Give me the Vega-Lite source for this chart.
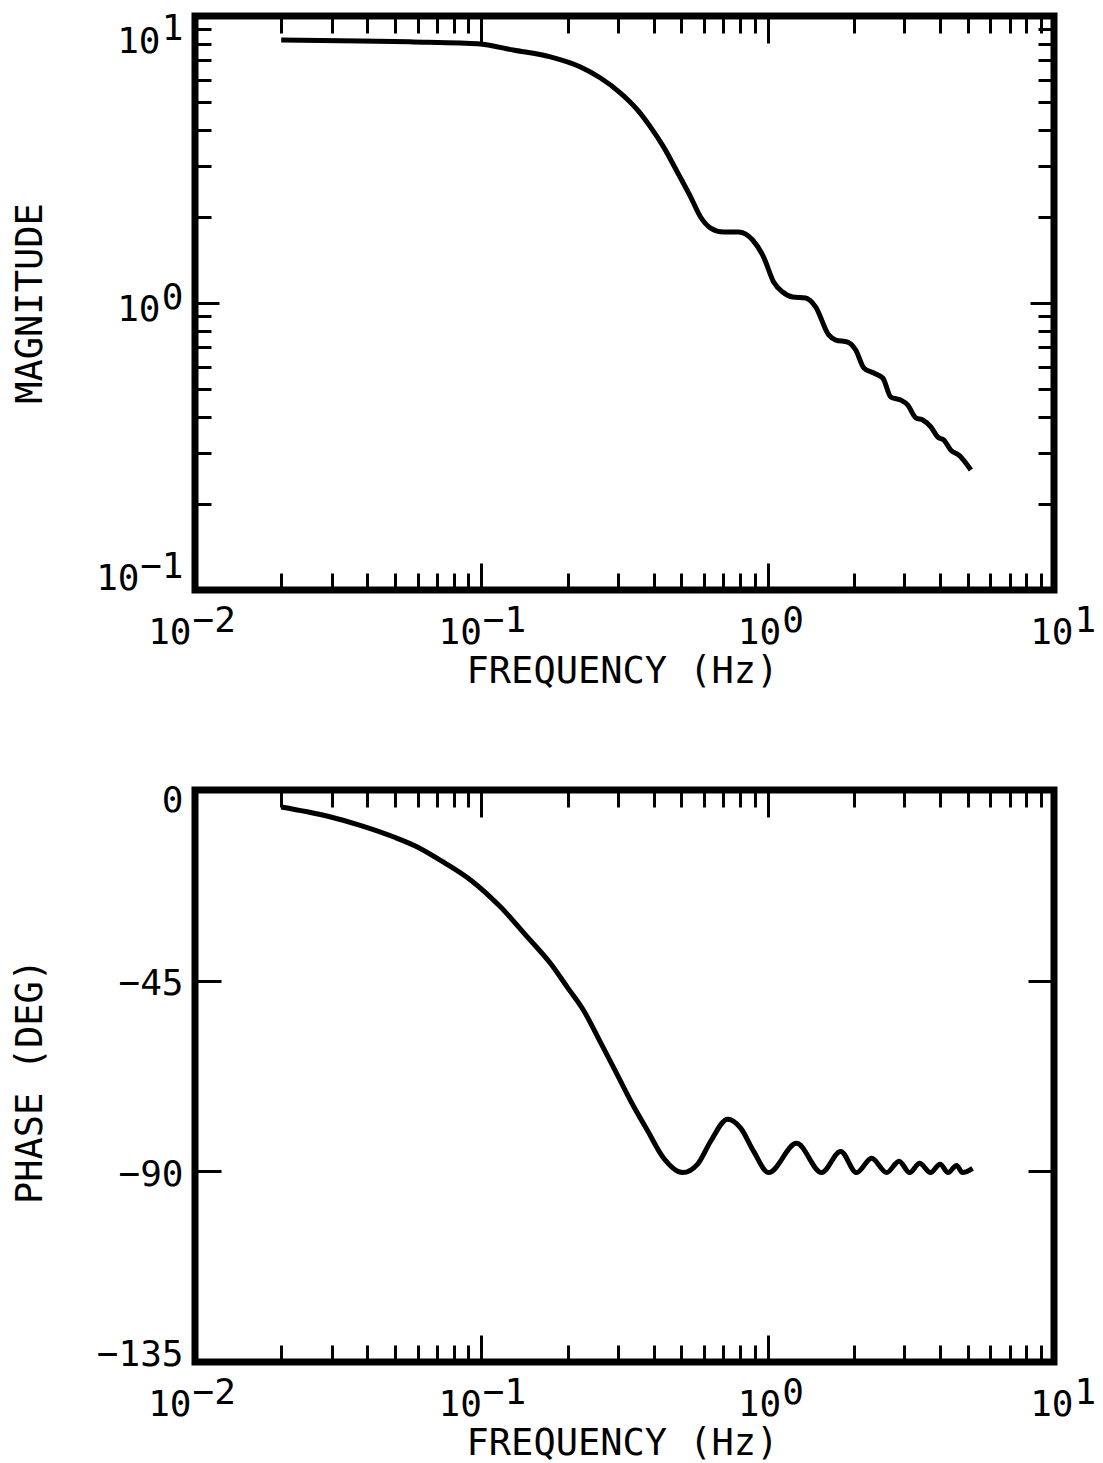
{
  "$schema": "https://vega.github.io/schema/vega-lite/v6.json",
  "background": "white",
  "padding": {"left": 7, "top": 6, "right": 0, "bottom": 0},
  "bounds": "flush",
  "spacing": 200,
  "config": {
    "font": "DejaVu Sans Mono",
    "view": {"stroke": "black", "strokeWidth": 7},
    "axis": {
      "domain": false, "grid": false, "tickColor": "black", "tickWidth": 3,
      "labelFont": "DejaVu Sans Mono", "labelFontSize": 36, "labelColor": "black",
      "titleFont": "DejaVu Sans Mono", "titleFontSize": 37, "titleFontWeight": "normal", "titleColor": "black",
      "labelOverlap": false, "labelFlush": false, "labelBound": false
    }
  },
  "datasets": {
    "mag": [
      {"freq": 0.02, "mag": 8.25}, {"freq": 0.0378, "mag": 8.19}, {"freq": 0.0579, "mag": 8.12},
      {"freq": 0.0844, "mag": 8.05}, {"freq": 0.0992, "mag": 7.99}, {"freq": 0.1294, "mag": 7.61},
      {"freq": 0.1742, "mag": 7.2}, {"freq": 0.222, "mag": 6.64}, {"freq": 0.2607, "mag": 6.08},
      {"freq": 0.3062, "mag": 5.39}, {"freq": 0.351, "mag": 4.71}, {"freq": 0.39, "mag": 4.1},
      {"freq": 0.4328, "mag": 3.5}, {"freq": 0.4845, "mag": 2.85}, {"freq": 0.5385, "mag": 2.34},
      {"freq": 0.583, "mag": 1.994}, {"freq": 0.632, "mag": 1.825}, {"freq": 0.7016, "mag": 1.768},
      {"freq": 0.7916, "mag": 1.768}, {"freq": 0.886, "mag": 1.658}, {"freq": 0.968, "mag": 1.446},
      {"freq": 1.049, "mag": 1.184}, {"freq": 1.128, "mag": 1.092}, {"freq": 1.223, "mag": 1.049},
      {"freq": 1.358, "mag": 1.041}, {"freq": 1.472, "mag": 0.968}, {"freq": 1.634, "mag": 0.774},
      {"freq": 1.729, "mag": 0.743}, {"freq": 1.903, "mag": 0.731}, {"freq": 2.03, "mag": 0.686},
      {"freq": 2.167, "mag": 0.594}, {"freq": 2.347, "mag": 0.57}, {"freq": 2.524, "mag": 0.548},
      {"freq": 2.692, "mag": 0.47}, {"freq": 2.917, "mag": 0.459}, {"freq": 3.086, "mag": 0.441},
      {"freq": 3.292, "mag": 0.398}, {"freq": 3.482, "mag": 0.391}, {"freq": 3.714, "mag": 0.37},
      {"freq": 3.929, "mag": 0.341}, {"freq": 4.125, "mag": 0.333}, {"freq": 4.363, "mag": 0.307},
      {"freq": 4.654, "mag": 0.295}, {"freq": 5.126, "mag": 0.262}
    ],
    "phase": [
      {"freq": 0.02, "phase": -4.0}, {"freq": 0.0291, "phase": -6.2}, {"freq": 0.038, "phase": -8.4},
      {"freq": 0.0495, "phase": -11.1}, {"freq": 0.06, "phase": -13.5}, {"freq": 0.074, "phase": -17.1},
      {"freq": 0.0919, "phase": -21.3}, {"freq": 0.117, "phase": -27.7}, {"freq": 0.1453, "phase": -34.8},
      {"freq": 0.1748, "phase": -41.0}, {"freq": 0.2004, "phase": -46.7}, {"freq": 0.2279, "phase": -52.1},
      {"freq": 0.2613, "phase": -59.7}, {"freq": 0.2901, "phase": -65.6}, {"freq": 0.3324, "phase": -73.4},
      {"freq": 0.3813, "phase": -80.5}, {"freq": 0.4335, "phase": -86.9}, {"freq": 0.505, "phase": -90.3},
      {"freq": 0.5695, "phase": -88.3}, {"freq": 0.6324, "phase": -82.9}, {"freq": 0.7248, "phase": -77.7},
      {"freq": 0.805, "phase": -79.8}, {"freq": 0.8935, "phase": -85.3}, {"freq": 1.008, "phase": -90.3},
      {"freq": 1.262, "phase": -83.4}, {"freq": 1.543, "phase": -90.3}, {"freq": 1.798, "phase": -85.3},
      {"freq": 2.045, "phase": -90.3}, {"freq": 2.307, "phase": -86.9}, {"freq": 2.603, "phase": -90.3},
      {"freq": 2.877, "phase": -87.6}, {"freq": 3.131, "phase": -90.3}, {"freq": 3.393, "phase": -88.1},
      {"freq": 3.707, "phase": -90.3}, {"freq": 4.001, "phase": -88.3}, {"freq": 4.266, "phase": -90.3},
      {"freq": 4.567, "phase": -88.6}, {"freq": 4.793, "phase": -90.3}, {"freq": 5.195, "phase": -89.3}
    ]
  },
  "vconcat": [
    {
      "width": 859, "height": 574,
      "data": {"name": "mag"},
      "resolve": {"axis": {"x": "independent", "y": "independent"}},
      "layer": [
        {
          "mark": {"type": "line", "color": "black", "strokeWidth": 5, "interpolate": "monotone"},
          "encoding": {
            "x": {"field": "freq", "type": "quantitative",
              "scale": {"type": "log", "domain": [0.01, 10], "nice": false},
              "axis": {"orient": "bottom", "values": [0.01, 0.1, 1, 10], "tickSize": -27, "labelPadding": 52,
                "labelAlign": "right", "labelBaseline": "top", "labelExpr": "'10'",
                "labelOffset": {"condition": [{"test": "datum.value > 5", "value": 19}, {"test": "datum.value > 0.5", "value": 13}, {"test": "datum.value < 0.05", "value": -4}], "value": 0},
                "title": "FREQUENCY (Hz)", "titleX": 427, "titleY": 92, "titleBaseline": "alphabetic"}},
            "y": {"field": "mag", "type": "quantitative",
              "scale": {"type": "log", "domain": [0.1, 10], "nice": false},
              "axis": {"orient": "left", "values": [0.1, 1, 10], "tickSize": -24,
                "labelPadding": {"condition": {"test": "datum.value < 0.5", "value": 80}, "value": 59},
                "labelAlign": "right", "labelBaseline": "middle", "labelExpr": "'10'",
                "labelOffset": {"condition": [{"test": "datum.value > 5", "value": 25}, {"test": "datum.value < 0.5", "value": -12}], "value": 6},
                "title": "MAGNITUDE", "titleX": -154, "titleY": 287, "titleBaseline": "alphabetic"}}
          }
        },
        {
          "mark": {"type": "line", "opacity": 0},
          "encoding": {
            "x": {"field": "freq", "type": "quantitative", "scale": {"type": "log", "domain": [0.01, 10], "nice": false},
              "axis": {"orient": "bottom", "values": [0.01, 0.1, 1, 10], "tickSize": -27, "tickOpacity": 0, "labelPadding": 40,
                "labelAlign": "left", "labelBaseline": "top",
                "labelExpr": "datum.value < 0.05 ? '\u22122' : datum.value < 0.5 ? '\u22121' : datum.value < 5 ? '0' : '1'",
                "labelOffset": {"condition": [{"test": "datum.value > 5", "value": 20}, {"test": "datum.value > 0.5", "value": 14}, {"test": "datum.value < 0.05", "value": -3}], "value": 1},
                "title": null}},
            "y": {"field": "mag", "type": "quantitative", "scale": {"type": "log", "domain": [0.1, 10], "nice": false},
              "axis": {"orient": "left", "values": [0.1, 1, 10], "tickSize": -24, "tickOpacity": 0, "labelPadding": 36,
                "labelAlign": "right", "labelBaseline": "middle",
                "labelExpr": "datum.value < 0.5 ? '\u22121' : datum.value < 5 ? '0' : '1'",
                "labelOffset": {"condition": [{"test": "datum.value > 5", "value": 12}, {"test": "datum.value < 0.5", "value": -24}], "value": -6},
                "title": null}}
          }
        },
        {
          "mark": {"type": "line", "opacity": 0},
          "encoding": {
            "x": {"field": "freq", "type": "quantitative", "scale": {"type": "log", "domain": [0.01, 10], "nice": false},
              "axis": {"orient": "bottom", "values": [0.02,0.03,0.04,0.05,0.06,0.07,0.08,0.09,0.2,0.3,0.4,0.5,0.6,0.7,0.8,0.9,2,3,4,5,6,7,8,9], "tickSize": -17, "labels": false, "title": null}},
            "y": {"field": "mag", "type": "quantitative", "scale": {"type": "log", "domain": [0.1, 10], "nice": false},
              "axis": {"orient": "left", "values": [0.2,0.3,0.4,0.5,0.6,0.7,0.8,0.9,2,3,4,5,6,7,8,9], "tickSize": -16, "labels": false, "title": null}}
          }
        },
        {
          "mark": {"type": "line", "opacity": 0},
          "encoding": {
            "x": {"field": "freq", "type": "quantitative", "scale": {"type": "log", "domain": [0.01, 10], "nice": false},
              "axis": {"orient": "top", "values": [0.1, 1], "tickSize": -27, "labels": false, "title": null}},
            "y": {"field": "mag", "type": "quantitative", "scale": {"type": "log", "domain": [0.1, 10], "nice": false},
              "axis": {"orient": "right", "values": [1], "tickSize": -24, "labels": false, "title": null}}
          }
        },
        {
          "mark": {"type": "line", "opacity": 0},
          "encoding": {
            "x": {"field": "freq", "type": "quantitative", "scale": {"type": "log", "domain": [0.01, 10], "nice": false},
              "axis": {"orient": "top", "values": [0.02,0.03,0.04,0.05,0.06,0.07,0.08,0.09,0.2,0.3,0.4,0.5,0.6,0.7,0.8,0.9,2,3,4,5,6,7,8,9], "tickSize": -17, "labels": false, "title": null}},
            "y": {"field": "mag", "type": "quantitative", "scale": {"type": "log", "domain": [0.1, 10], "nice": false},
              "axis": {"orient": "right", "values": [0.2,0.3,0.4,0.5,0.6,0.7,0.8,0.9,2,3,4,5,6,7,8,9], "tickSize": -16, "labels": false, "title": null}}
          }
        }
      ]
    },
    {
      "width": 859, "height": 572,
      "data": {"name": "phase"},
      "resolve": {"axis": {"x": "independent", "y": "independent"}},
      "layer": [
        {
          "mark": {"type": "line", "color": "black", "strokeWidth": 5, "interpolate": "monotone"},
          "encoding": {
            "x": {"field": "freq", "type": "quantitative",
              "scale": {"type": "log", "domain": [0.01, 10], "nice": false},
              "axis": {"orient": "bottom", "values": [0.01, 0.1, 1, 10], "tickSize": -27, "labelPadding": 52,
                "labelAlign": "right", "labelBaseline": "top", "labelExpr": "'10'",
                "labelOffset": {"condition": [{"test": "datum.value > 5", "value": 19}, {"test": "datum.value > 0.5", "value": 13}, {"test": "datum.value < 0.05", "value": -4}], "value": 0},
                "title": "FREQUENCY (Hz)", "titleX": 427, "titleY": 92, "titleBaseline": "alphabetic"}},
            "y": {"field": "phase", "type": "quantitative",
              "scale": {"type": "linear", "domain": [-135, 0], "nice": false, "zero": false},
              "axis": {"orient": "left", "values": [0, -45, -90, -135], "tickSize": -26, "labelPadding": 38,
                "labelAlign": "right", "labelBaseline": "middle",
                "labelExpr": "datum.value == 0 ? '0' : '\u2212' + toString(-datum.value)",
                "labelOffset": {"condition": [{"test": "datum.value == 0", "value": 10}, {"test": "datum.value < -100", "value": -8}], "value": 3},
                "title": "PHASE (DEG)", "titleX": -154, "titleY": 291, "titleBaseline": "alphabetic"}}
          }
        },
        {
          "mark": {"type": "line", "opacity": 0},
          "encoding": {
            "x": {"field": "freq", "type": "quantitative", "scale": {"type": "log", "domain": [0.01, 10], "nice": false},
              "axis": {"orient": "bottom", "values": [0.01, 0.1, 1, 10], "tickSize": -27, "tickOpacity": 0, "labelPadding": 40,
                "labelAlign": "left", "labelBaseline": "top",
                "labelExpr": "datum.value < 0.05 ? '\u22122' : datum.value < 0.5 ? '\u22121' : datum.value < 5 ? '0' : '1'",
                "labelOffset": {"condition": [{"test": "datum.value > 5", "value": 20}, {"test": "datum.value > 0.5", "value": 14}, {"test": "datum.value < 0.05", "value": -3}], "value": 1},
                "title": null}},
            "y": {"field": "phase", "type": "quantitative", "scale": {"type": "linear", "domain": [-135, 0], "nice": false, "zero": false},
              "axis": {"orient": "right", "values": [-45, -90], "tickSize": -26, "labels": false, "title": null}}
          }
        },
        {
          "mark": {"type": "line", "opacity": 0},
          "encoding": {
            "x": {"field": "freq", "type": "quantitative", "scale": {"type": "log", "domain": [0.01, 10], "nice": false},
              "axis": {"orient": "bottom", "values": [0.02,0.03,0.04,0.05,0.06,0.07,0.08,0.09,0.2,0.3,0.4,0.5,0.6,0.7,0.8,0.9,2,3,4,5,6,7,8,9], "tickSize": -17, "labels": false, "title": null}},
            "y": {"field": "phase", "type": "quantitative", "scale": {"type": "linear", "domain": [-135, 0], "nice": false, "zero": false}, "axis": null}
          }
        },
        {
          "mark": {"type": "line", "opacity": 0},
          "encoding": {
            "x": {"field": "freq", "type": "quantitative", "scale": {"type": "log", "domain": [0.01, 10], "nice": false},
              "axis": {"orient": "top", "values": [0.1, 1], "tickSize": -27, "labels": false, "title": null}},
            "y": {"field": "phase", "type": "quantitative", "scale": {"type": "linear", "domain": [-135, 0], "nice": false, "zero": false}, "axis": null}
          }
        },
        {
          "mark": {"type": "line", "opacity": 0},
          "encoding": {
            "x": {"field": "freq", "type": "quantitative", "scale": {"type": "log", "domain": [0.01, 10], "nice": false},
              "axis": {"orient": "top", "values": [0.02,0.03,0.04,0.05,0.06,0.07,0.08,0.09,0.2,0.3,0.4,0.5,0.6,0.7,0.8,0.9,2,3,4,5,6,7,8,9], "tickSize": -17, "labels": false, "title": null}},
            "y": {"field": "phase", "type": "quantitative", "scale": {"type": "linear", "domain": [-135, 0], "nice": false, "zero": false}, "axis": null}
          }
        }
      ]
    }
  ]
}
